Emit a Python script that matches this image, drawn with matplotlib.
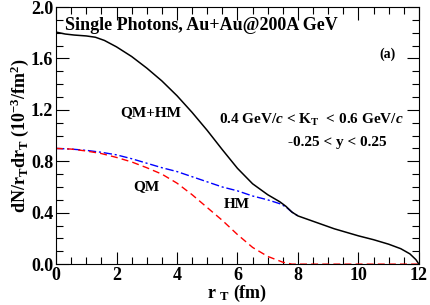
import matplotlib
matplotlib.use("Agg")
import matplotlib.pyplot as plt
from matplotlib.ticker import MultipleLocator

# === Data ===
r_total = [0, 0.3, 0.6, 1.0, 1.3, 1.6, 2.0, 2.5, 3.0, 3.5, 4.0, 4.5, 5.0,
           5.5, 6.0, 6.5, 7.0, 7.4, 7.6, 7.8, 8.0, 8.3, 8.6, 9.2, 10.0,
           10.5, 11.0, 11.4, 11.7, 11.9, 12.0]
total = [1.805, 1.79, 1.782, 1.775, 1.765, 1.74, 1.69, 1.615, 1.525, 1.425,
         1.31, 1.18, 1.04, 0.89, 0.745, 0.625, 0.54, 0.485, 0.45, 0.405,
         0.375, 0.35, 0.325, 0.275, 0.22, 0.19, 0.155, 0.12, 0.08, 0.035, 0.0]

r_qm = [0, 0.5, 1.0, 1.5, 2.0, 2.5, 3.0, 3.5, 4.0, 4.5, 5.0, 5.5, 6.0, 6.5,
        7.0, 7.5, 7.8, 9.0, 10.0, 11.0, 12.0]
qm = [0.90, 0.895, 0.88, 0.86, 0.83, 0.795, 0.75, 0.70, 0.63, 0.54, 0.44,
      0.34, 0.23, 0.13, 0.06, 0.015, 0.0, 0.0, 0.0, 0.0, 0.0]

r_hm = [0, 0.5, 1.0, 1.5, 2.0, 2.5, 3.0, 3.5, 4.0, 4.5, 5.0, 5.5, 6.0, 6.5,
        7.0, 7.4, 7.6, 7.8, 8.0]
hm = [0.90, 0.895, 0.885, 0.87, 0.85, 0.82, 0.785, 0.75, 0.72, 0.68, 0.64,
      0.60, 0.57, 0.53, 0.50, 0.47, 0.445, 0.405, 0.375]

# === Style ===
plt.rcParams['font.family'] = ['Liberation Serif', 'DejaVu Serif']
plt.rcParams['font.weight'] = 'bold'
plt.rcParams['mathtext.fontset'] = 'custom'
plt.rcParams['mathtext.rm'] = 'Liberation Serif:bold'
plt.rcParams['mathtext.bf'] = 'Liberation Serif:bold'
plt.rcParams['mathtext.it'] = 'Liberation Serif:italic:bold'

fig = plt.figure(figsize=(4.31, 3.05), dpi=100)
ax = fig.add_axes([0.130, 0.134, 0.842, 0.843])

ax.plot(r_hm, hm, color='blue', lw=1.0, linestyle=(0, (6, 2, 1.5, 2)))
ax.plot(r_qm, qm, color='red', lw=1.0, linestyle=(0, (5, 3)))
ax.plot(r_total, total, color='black', lw=1.1)

ax.set_xlim(0, 12)
ax.set_ylim(0, 2.0)
ax.xaxis.set_major_locator(MultipleLocator(2))
ax.xaxis.set_minor_locator(MultipleLocator(0.5))
ax.yaxis.set_minor_locator(MultipleLocator(0.1))
ax.set_yticks([0.0, 0.4, 0.8, 1.2, 1.6, 2.0])
ax.set_yticklabels(["0.0", "0.4", "0.8", "1.2", "1.6", "2.0"])
ax.tick_params(which='both', direction='in', top=True, right=True,
               labelsize=13, width=0.8)
ax.tick_params(which='major', length=9, pad=2)
ax.tick_params(which='minor', length=5)
for lab in ax.get_xticklabels() + ax.get_yticklabels():
    lab.set_fontweight('bold')

ax.set_xlabel(r"r $_\mathrm{T}$ (fm)", fontsize=13, fontweight='bold', labelpad=-1)
ax.set_ylabel(r"dN/r$_\mathrm{T}$dr$_\mathrm{T}$ (10$^{-3}$/fm$^2$)",
              fontsize=13, fontweight='bold', labelpad=0)

# === Annotations ===
ax.text(0.025, 1.86, "Single Photons, Au+Au@200A GeV", fontsize=13,
        fontweight='bold', va='center', ha='left',
        transform=ax.get_yaxis_transform())
ax.text(10.97, 1.63, "(a)", fontsize=10, fontweight='bold', ha='center', va='center')
ax.text(3.14, 1.18, "QM+HM", fontsize=11, fontweight='bold', ha='center', va='center')
ax.text(8.43, 1.12, r"0.4 GeV/$c$ < K$_\mathrm{T}$  < 0.6 GeV/$c$", fontsize=11,
        fontweight='bold', ha='center', va='center')
ax.text(9.29, 0.95, "-0.25 < y < 0.25", fontsize=11, fontweight='bold',
        ha='center', va='center')
ax.text(3.0, 0.60, "QM", fontsize=11, fontweight='bold', ha='center', va='center')
ax.text(5.98, 0.46, "HM", fontsize=11, fontweight='bold', ha='center', va='center')

fig.savefig("out.png", dpi=100)
